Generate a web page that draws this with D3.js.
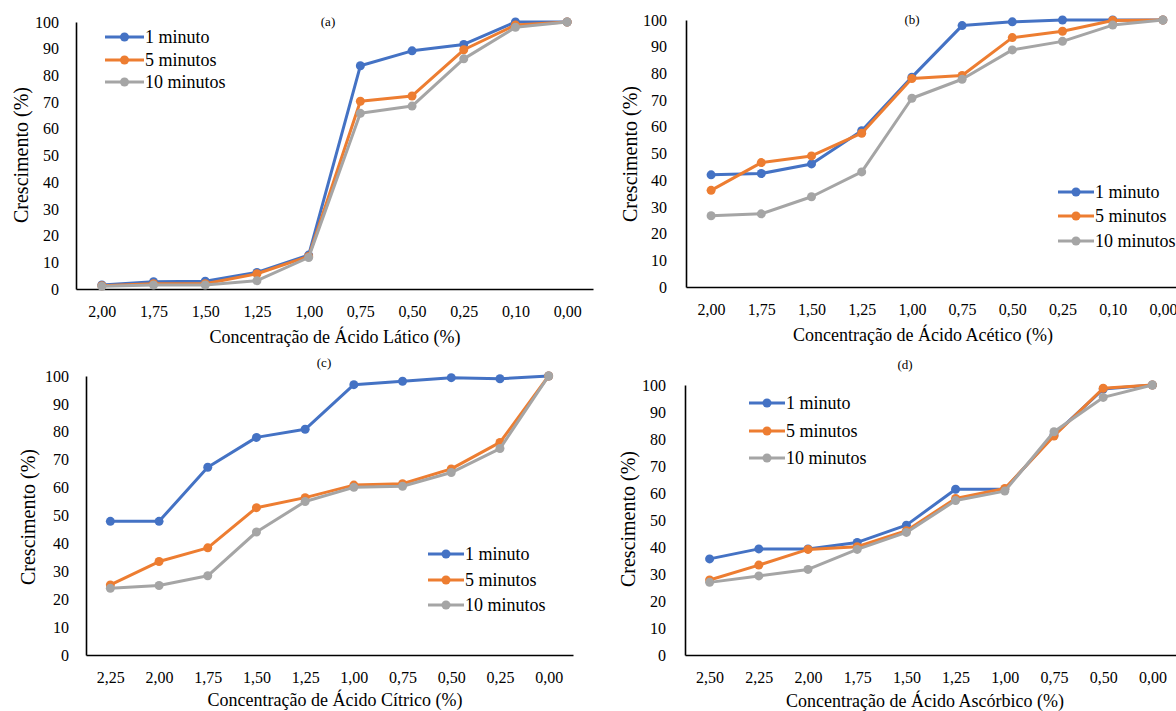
<!DOCTYPE html>
<html>

<head>
    <meta charset="utf-8">
    <title>Crescimento</title>
    <script src="https://d3js.org/d3.v7.min.js" charset="utf-8"></script>
    <style>
        body { margin: 0; background: #fff; }
        svg text { font-family: "Liberation Serif", "Times New Roman", serif !important; fill: #000; }
    </style>
</head>

<body>

    <div class="box"></div>

    <script type="text/javascript">
        // categories (x axis), read left to right
        var catLatico = ["2,00", "1,75", "1,50", "1,25", "1,00", "0,75", "0,50", "0,25", "0,10", "0,00"];
        var catAcetico = ["2,00", "1,75", "1,50", "1,25", "1,00", "0,75", "0,50", "0,25", "0,10", "0,00"];
        var catCitrico = ["2,25", "2,00", "1,75", "1,50", "1,25", "1,00", "0,75", "0,50", "0,25", "0,00"];
        var catAscorbico = ["2,50", "2,25", "2,00", "1,75", "1,50", "1,25", "1,00", "0,75", "0,50", "0,00"];

        var seriesNames = ["1 minuto", "5 minutos", "10 minutos"];
        var yTicks = [0, 10, 20, 30, 40, 50, 60, 70, 80, 90, 100];

        // (a) acido latico
        var latico1 = [1.5, 2.7, 2.9, 6.2, 12.7, 83.6, 89.2, 91.6, 100, 100];
        var latico5 = [1.2, 2.0, 2.0, 5.7, 12.2, 70.3, 72.3, 89.6, 98.9, 100];
        var latico10 = [1.0, 1.5, 1.5, 3.1, 11.8, 65.8, 68.5, 86.2, 98.0, 100];

        // (b) acido acetico
        var acetico1 = [42.0, 42.5, 46.1, 58.5, 78.6, 97.9, 99.3, 100, 100, 100];
        var acetico5 = [36.2, 46.6, 49.1, 57.6, 78.1, 79.2, 93.4, 95.8, 99.8, 100];
        var acetico10 = [26.7, 27.4, 33.8, 43.1, 70.7, 77.8, 88.8, 92.0, 98.1, 100];

        // (c) acido citrico
        var citrico1 = [47.9, 47.9, 67.3, 78.0, 80.9, 96.9, 98.1, 99.4, 99.0, 100];
        var citrico5 = [25.1, 33.5, 38.4, 52.8, 56.4, 60.9, 61.4, 66.7, 76.2, 100];
        var citrico10 = [23.9, 24.9, 28.4, 44.1, 55.0, 60.1, 60.5, 65.4, 74.0, 100];

        // (d) acido ascorbico
        var ascorbico1 = [35.6, 39.3, 39.3, 41.7, 48.1, 61.4, 61.4, 81.5, 98.5, 100];
        var ascorbico5 = [27.8, 33.3, 39.1, 40.1, 46.0, 58.0, 61.7, 81.1, 98.8, 100];
        var ascorbico10 = [26.9, 29.3, 31.7, 39.1, 45.4, 57.2, 60.7, 82.7, 95.4, 100];

        var colors = ["#4472C4", "#ED7D31", "#A5A5A5"];
        var serif = "'Liberation Serif', 'Times New Roman', serif";

        var panels = [
            { tag: "(a)", cats: catLatico, series: [latico1, latico5, latico10],
              xTitle: "Concentração de Ácido Lático (%)",
              x0: 76, x1: 593, yTop: 22, yBot: 289, yPad: 17,
              tagX: 328, tagY: 21, yTitleX: 21, yTitleY: 155, xTitleX: 335, xTitleY: 337,
              legX: 105, legW: 39, legY: [37, 60, 82] },
            { tag: "(b)", cats: catAcetico, series: [acetico1, acetico5, acetico10],
              xTitle: "Concentração de Ácido Acético (%)",
              x0: 686, x1: 1188, yTop: 20, yBot: 287, yPad: 19,
              tagX: 912, tagY: 19, yTitleX: 630, yTitleY: 154, xTitleX: 923, xTitleY: 335,
              legX: 1058, legW: 36, legY: [192, 216, 241] },
            { tag: "(c)", cats: catCitrico, series: [citrico1, citrico5, citrico10],
              xTitle: "Concentração de Ácido Cítrico (%)",
              x0: 86, x1: 573, yTop: 376, yBot: 655, yPad: 17,
              tagX: 324, tagY: 362, yTitleX: 28, yTitleY: 517, xTitleX: 335, xTitleY: 700,
              legX: 428, legW: 36, legY: [554, 580, 605] },
            { tag: "(d)", cats: catAscorbico, series: [ascorbico1, ascorbico5, ascorbico10],
              xTitle: "Concentração de Ácido Ascórbico (%)",
              x0: 685, x1: 1177, yTop: 385, yBot: 655, yPad: 19,
              tagX: 905, tagY: 364, yTitleX: 628, yTitleY: 519, xTitleX: 925, xTitleY: 701,
              legX: 749, legW: 36, legY: [403, 431, 458] }
        ];

        var svg = d3.select("div.box").append("svg")
            .attr("width", 1176)
            .attr("height", 711)
            .style("font-family", serif);

        panels.forEach(function(p) {
            var g = svg.append("g");

            var x = d3.scalePoint()
                .domain(p.cats)
                .range([p.x0, p.x1])
                .padding(0.5);
            var y = d3.scaleLinear()
                .domain([0, 100])
                .range([p.yBot, p.yTop]);

            var yAxis = g.append("g")
                .attr("transform", "translate(" + p.x0 + ",0)")
                .call(d3.axisLeft(y).tickValues(yTicks).tickSize(0).tickPadding(p.yPad));
            var xAxis = g.append("g")
                .attr("transform", "translate(0," + p.yBot + ")")
                .call(d3.axisBottom(x).tickSize(0).tickPadding(17));

            [yAxis, xAxis].forEach(function(a) {
                a.attr("font-family", null).attr("font-size", null);
                a.select(".domain").attr("stroke", "#000").attr("stroke-width", 1.6);
                a.selectAll("text")
                    .style("font-family", serif)
                    .style("font-size", "16px")
                    .attr("fill", "#000");
            });

            var line = d3.line()
                .x(function(d, i) { return x(p.cats[i]); })
                .y(function(d) { return y(d); });

            p.series.forEach(function(vals, s) {
                g.append("path")
                    .datum(vals)
                    .attr("d", line)
                    .attr("fill", "none")
                    .attr("stroke", colors[s])
                    .attr("stroke-width", 3)
                    .attr("stroke-linejoin", "round");
                g.selectAll(".pt" + s)
                    .data(vals)
                    .enter()
                    .append("circle")
                    .attr("cx", function(d, i) { return x(p.cats[i]); })
                    .attr("cy", function(d) { return y(d); })
                    .attr("r", 4.5)
                    .attr("fill", colors[s]);
            });

            // titles
            g.append("text")
                .attr("x", p.tagX).attr("y", p.tagY)
                .attr("text-anchor", "middle")
                .attr("dominant-baseline", "central")
                .style("font-family", serif)
                .style("font-size", "13px")
                .text(p.tag);
            g.append("text")
                .attr("transform", "translate(" + p.yTitleX + "," + p.yTitleY + ") rotate(-90)")
                .attr("text-anchor", "middle")
                .attr("dominant-baseline", "central")
                .style("font-family", serif)
                .style("font-size", "20px")
                .text("Crescimento (%)");
            g.append("text")
                .attr("x", p.xTitleX).attr("y", p.xTitleY)
                .attr("text-anchor", "middle")
                .attr("dominant-baseline", "central")
                .style("font-family", serif)
                .style("font-size", "18px")
                .text(p.xTitle);

            // legend
            var leg = g.selectAll(".leg")
                .data(seriesNames)
                .enter()
                .append("g")
                .attr("transform", function(d, i) { return "translate(" + p.legX + "," + p.legY[i] + ")"; });
            leg.append("line")
                .attr("x1", 0).attr("x2", p.legW)
                .attr("stroke", function(d, i) { return colors[i]; })
                .attr("stroke-width", 3);
            leg.append("circle")
                .attr("cx", p.legW / 2)
                .attr("r", 4.5)
                .attr("fill", function(d, i) { return colors[i]; });
            leg.append("text")
                .attr("x", p.legW + 1)
                .attr("dominant-baseline", "central")
                .style("font-family", serif)
                .style("font-size", "18px")
                .text(function(d) { return d; });
        });
    </script>

</body>

</html>
